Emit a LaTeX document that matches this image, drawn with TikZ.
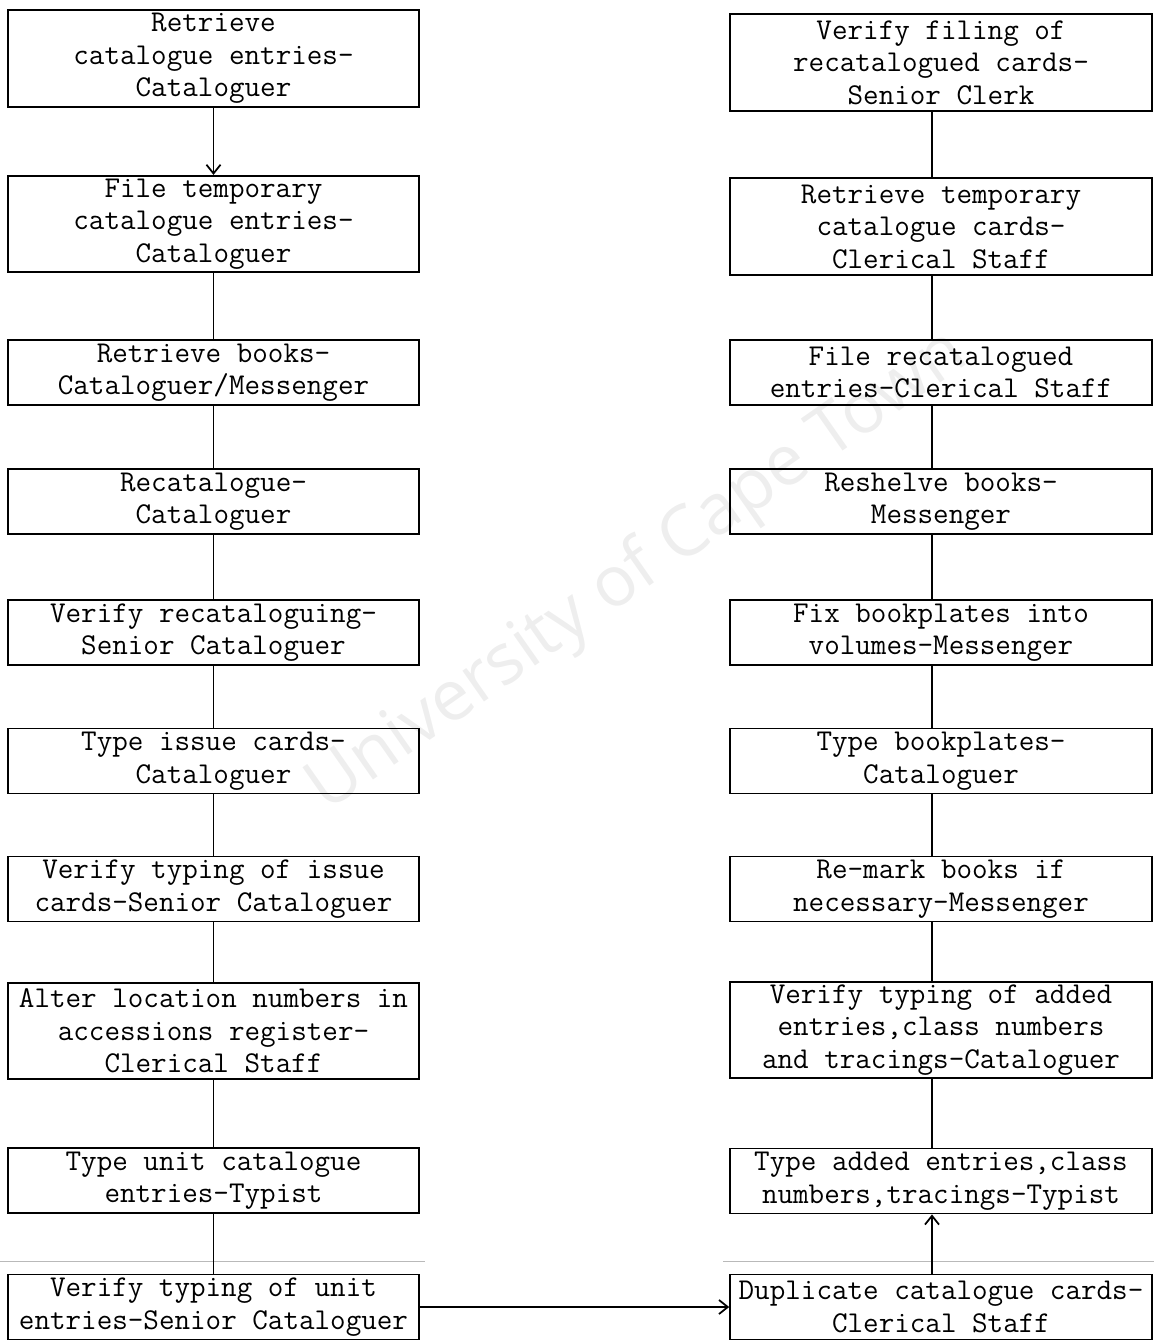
\documentclass[tikz,border=0pt]{standalone}
\usepackage{fontspec}
\newfontfamily\markfont{Open Sans}
\usetikzlibrary{arrows.meta}

\begin{document}
\begin{tikzpicture}[x=0.02cm, y=-0.02cm,
        task/.style={draw, line width=1pt, align=center, inner sep=0pt,
            font=\ttfamily\fontsize{17.2}{18.5}\selectfont},
        lbox/.style={task, minimum width=8.22cm},
        rbox/.style={task, minimum width=8.44cm},
        two/.style={minimum height=1.3cm},
        three/.style={minimum height=1.93cm},
        link/.style={line width=1pt},
        flow/.style={line width=1pt, -{Straight Barb[length=5pt, width=8pt]}}]

        \useasboundingbox (0,0) rectangle (1154,1340);

        \node[rotate=35, text=gray!13, font=\markfont\fontsize{40}{40}\selectfont]
            (mark) at (638,572) {University of Cape Town};

        \draw[gray!55, line width=0.5pt]
            (0,1261) -- (425,1261)
            (723,1261) -- (1154,1261);

        % left column
        \node[lbox, three] (l1) at (213.5,58.5) {Retrieve\\catalogue entries-\\Cataloguer};
        \node[lbox, three] (l2) at (213.5,224) {File temporary\\catalogue entries-\\Cataloguer};
        \node[lbox, two] (l3) at (213.5,372.5) {Retrieve books-\\Cataloguer/Messenger};
        \node[lbox, two] (l4) at (213.5,501.5) {Recatalogue-\\Cataloguer};
        \node[lbox, two] (l5) at (213.5,632.5) {Verify recataloguing-\\Senior Cataloguer};
        \node[lbox, two] (l6) at (213.5,761) {Type issue cards-\\Cataloguer};
        \node[lbox, two] (l7) at (213.5,889) {Verify typing of issue\\cards-Senior Cataloguer};
        \node[lbox, three] (l8) at (213.5,1031) {Alter location numbers in\\accessions register-\\Clerical Staff};
        \node[lbox, two] (l9) at (213.5,1180.5) {Type unit catalogue\\entries-Typist};
        \node[lbox, two] (l10) at (213.5,1307) {Verify typing of unit\\entries-Senior Cataloguer};

        % right column
        \node[rbox, three] (r1) at (941,62.5) {Verify filing of\\recatalogued cards-\\Senior Clerk};
        \node[rbox, three] (r2) at (941,226.5) {Retrieve temporary\\catalogue cards-\\Clerical Staff};
        \node[rbox, two] (r3) at (941,372.5) {File recatalogued\\entries-Clerical Staff};
        \node[rbox, two] (r4) at (941,501.5) {Reshelve books-\\Messenger};
        \node[rbox, two] (r5) at (941,632.5) {Fix bookplates into\\volumes-Messenger};
        \node[rbox, two] (r6) at (941,761) {Type bookplates-\\Cataloguer};
        \node[rbox, two] (r7) at (941,889) {Re-mark books if\\necessary-Messenger};
        \node[rbox, three] (r8) at (941,1030) {Verify typing of added\\entries,class numbers\\and tracings-Cataloguer};
        \node[rbox, two] (r9) at (941,1181) {Type added entries,class\\numbers,tracings-Typist};
        \node[rbox, two] (r10) at (941,1307) {Duplicate catalogue cards-\\Clerical Staff};

        \draw[flow] (l1) -- (l2);
        \foreach \a/\b in {l2/l3, l3/l4, l4/l5, l5/l6, l6/l7, l7/l8, l8/l9, l9/l10}
            \draw[link] (\a) -- (\b);

        \draw[flow] (l10) -- (r10);

        \draw[flow] ([xshift=-0.18cm]r10.north) -- ([xshift=-0.18cm]r9.south);
        \foreach \a/\b in {r1/r2, r2/r3, r3/r4, r4/r5, r5/r6, r6/r7, r7/r8, r8/r9}
            \draw[link] ([xshift=-0.18cm]\a.south) -- ([xshift=-0.18cm]\b.north);

    \end{tikzpicture}
\end{document}
